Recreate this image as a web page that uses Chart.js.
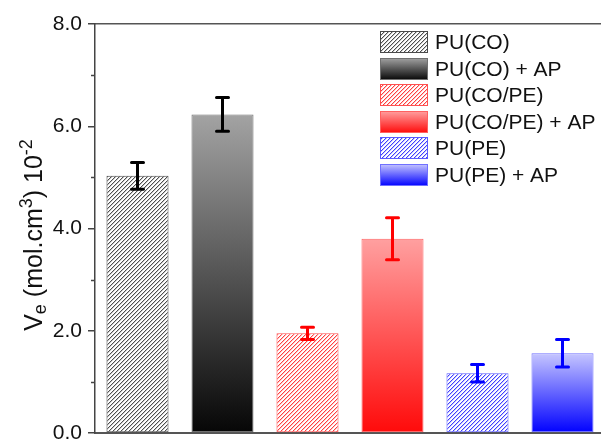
<!DOCTYPE html>
<html>
<head>
<meta charset="utf-8">
<script src="https://cdn.jsdelivr.net/npm/chart.js@4.4.1/dist/chart.umd.min.js"></script>
<style>
  html, body { margin: 0; padding: 0; background: #fff; overflow: hidden; }
  #wrap { width: 601px; height: 443px; overflow: hidden; }
  canvas { display: block; }
</style>
</head>
<body>
<div id="wrap"><canvas id="chart" width="620" height="460"></canvas></div>
<script>
const categories = ["PU(CO)", "PU(CO) + AP", "PU(CO/PE)", "PU(CO/PE) + AP", "PU(PE)", "PU(PE) + AP"];
const values = [5.03, 6.23, 1.95, 3.80, 1.17, 1.56];
const errors = [0.26, 0.33, 0.12, 0.41, 0.17, 0.27];
const yMin = 0, yMax = 8, yStep = 2;
const minorTicks = [1, 3, 5, 7];

const FONT = "'Liberation Sans', Arial, sans-serif";

// one palette per material, first bar hatched, second bar with gradient
const palettes = [
  { hatch: [78, 78, 78], hatchBorder: "#4a4a4a", top: "#a3a3a3", bottom: "#060606", gradBorder: "#707070", err: "#000000" },
  { hatch: [255, 64, 64], hatchBorder: "#ff5050", top: "#ffa0a0", bottom: "#ff0a0a", gradBorder: "#ff6060", err: "#ff0000" },
  { hatch: [64, 64, 255], hatchBorder: "#5a5aff", top: "#c6c6ff", bottom: "#0000ff", gradBorder: "#7070ff", err: "#0000ff" }
];

// 4x4 tile, one diagonal "/" line with a soft edge
function makeHatch(rgb) {
  const s = 4;
  const c = document.createElement("canvas");
  c.width = s; c.height = s;
  const g = c.getContext("2d");
  const img = g.createImageData(s, s);
  for (let yy = 0; yy < s; yy++) {
    for (let xx = 0; xx < s; xx++) {
      const d = (xx + yy) % s;
      const a = d === s - 1 ? 1 : (d === 0 ? 0.3 : 0);
      const k = (yy * s + xx) * 4;
      for (let ch = 0; ch < 3; ch++) img.data[k + ch] = Math.round(255 * (1 - a) + rgb[ch] * a);
      img.data[k + 3] = 255;
    }
  }
  g.putImageData(img, 0, 0);
  return g.createPattern(c, "repeat");
}

const patterns = palettes.map(p => makeHatch(p.hatch));

function fillFor(ctx2d, i, top, bottom) {
  const p = palettes[Math.floor(i / 2)];
  if (i % 2 === 0) return patterns[Math.floor(i / 2)];
  const grd = ctx2d.createLinearGradient(0, top, 0, bottom);
  grd.addColorStop(0, p.top);
  grd.addColorStop(1, p.bottom);
  return grd;
}

function borderFor(i) {
  const p = palettes[Math.floor(i / 2)];
  return i % 2 === 0 ? p.hatchBorder : p.gradBorder;
}

const errorBars = {
  id: "errorBars",
  afterDatasetsDraw(chart) {
    const c = chart.ctx;
    const y = chart.scales.y;
    const meta = chart.getDatasetMeta(0);
    c.save();
    meta.data.forEach((bar, i) => {
      const yt = y.getPixelForValue(values[i] + errors[i]);
      const yb = y.getPixelForValue(values[i] - errors[i]);
      c.strokeStyle = palettes[Math.floor(i / 2)].err;
      c.lineWidth = 3;
      c.lineCap = "round";
      c.beginPath();
      c.moveTo(bar.x, yt); c.lineTo(bar.x, yb);
      c.moveTo(bar.x - 6, yt); c.lineTo(bar.x + 6, yt);
      c.moveTo(bar.x - 6, yb); c.lineTo(bar.x + 6, yb);
      c.stroke();
    });
    c.restore();
  }
};

const extras = {
  id: "extras",
  afterDraw(chart) {
    const c = chart.ctx;
    const y = chart.scales.y;
    const left = chart.chartArea.left;
    c.save();

    // minor ticks
    c.strokeStyle = "#444";
    c.lineWidth = 1.5;
    c.beginPath();
    minorTicks.forEach(v => {
      const py = Math.round(y.getPixelForValue(v)) + 0.5;
      c.moveTo(left - 4, py); c.lineTo(left, py);
    });
    c.stroke();

    // legend
    const lx = 380, ly = 31, bw = 48, bh = 22, step = 26.6;
    c.font = "21px " + FONT;
    c.textBaseline = "middle";
    c.textAlign = "left";
    categories.forEach((name, i) => {
      const by = Math.round(ly + i * step);
      c.fillStyle = fillFor(c, i, by, by + bh);
      c.fillRect(lx, by, bw, bh);
      c.strokeStyle = borderFor(i);
      c.lineWidth = 1;
      c.strokeRect(lx + 0.5, by + 0.5, bw - 1, bh - 1);
      c.fillStyle = "#111";
      c.fillText(name, 435, by + bh / 2 + 1);
    });

    // y axis title with subscript and superscripts
    const parts = [
      { t: "V", s: 25, d: 0 },
      { t: "e", s: 18, d: 4 },
      { t: " (mol.cm", s: 25, d: 0 },
      { t: "3", s: 18, d: -10 },
      { t: ") 10", s: 25, d: 0 },
      { t: "-2", s: 18, d: -10 }
    ];
    let total = 0;
    parts.forEach(p => { c.font = p.s + "px " + FONT; p.w = c.measureText(p.t).width; total += p.w; });
    c.translate(42, 235);
    c.rotate(-Math.PI / 2);
    c.fillStyle = "#111";
    c.textBaseline = "alphabetic";
    let x = -total / 2;
    parts.forEach(p => {
      c.font = p.s + "px " + FONT;
      c.fillText(p.t, x, p.d);
      x += p.w;
    });
    c.restore();
  }
};

new Chart(document.getElementById("chart"), {
  type: "bar",
  data: {
    labels: categories,
    datasets: [{
      data: values,
      backgroundColor: (ctx) => {
        if (ctx.type !== "data") return "#000";
        const y = ctx.chart.scales.y;
        return fillFor(ctx.chart.ctx, ctx.dataIndex, y.getPixelForValue(values[ctx.dataIndex]), y.getPixelForValue(0));
      },
      borderColor: (ctx) => ctx.type === "data" ? borderFor(ctx.dataIndex) : "#000",
      borderWidth: 1,
      borderSkipped: false,
      categoryPercentage: 1,
      barPercentage: 0.73
    }]
  },
  options: {
    responsive: false,
    devicePixelRatio: 1,
    animation: false,
    layout: { padding: { left: 0, top: 24, right: 15, bottom: 27 } },
    plugins: { legend: { display: false }, tooltip: { enabled: false } },
    scales: {
      x: {
        position: "bottom",
        ticks: { display: false },
        grid: { display: false },
        border: { display: true, color: "#555", width: 2 },
        afterFit: s => { s.height = 0; }
      },
      x2: {
        type: "category",
        position: "top",
        ticks: { display: false },
        grid: { display: false },
        border: { display: true, color: "#555", width: 1.5 },
        afterFit: s => { s.height = 0; }
      },
      y: {
        min: yMin,
        max: yMax,
        ticks: {
          stepSize: yStep,
          padding: 6,
          color: "#111",
          font: { family: FONT, size: 21 },
          callback: v => v.toFixed(1)
        },
        grid: { drawOnChartArea: false, tickLength: 7, color: "#444", lineWidth: 1.5 },
        border: { display: true, color: "#444", width: 1.5 },
        afterFit: s => { s.width = 95; }
      }
    }
  },
  plugins: [errorBars, extras]
});
</script>
</body>
</html>
